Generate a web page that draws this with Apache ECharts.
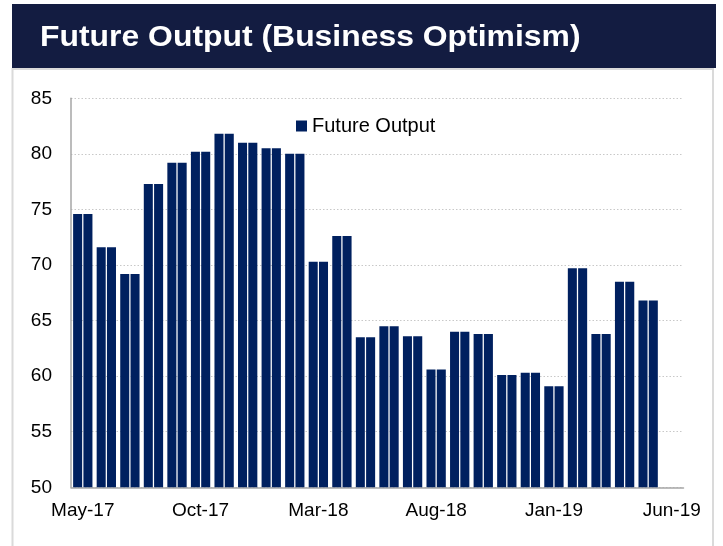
<!DOCTYPE html>
<html>
<head>
<meta charset="utf-8">
<script src="https://cdn.jsdelivr.net/npm/echarts@6/dist/echarts.min.js"></script>
<style>
html,body{margin:0;padding:0;background:#fff;}
#chart{width:723px;height:546px;}
</style>
</head>
<body>
<div id="chart"></div>
<script>
// Month categories (last month has no reading yet)
const months = ['May-17','Jun-17','Jul-17','Aug-17','Sep-17','Oct-17','Nov-17','Dec-17',
  'Jan-18','Feb-18','Mar-18','Apr-18','May-18','Jun-18','Jul-18','Aug-18','Sep-18','Oct-18',
  'Nov-18','Dec-18','Jan-19','Feb-19','Mar-19','Apr-19','May-19','Jun-19'];
// Future Output index per month
const futureOutput = [74.6, 71.6, 69.2, 77.3, 79.2, 80.2, 81.8, 81.0, 80.5, 80.0,
  70.3, 72.6, 63.5, 64.5, 63.6, 60.6, 64.0, 63.8, 60.1, 60.3, 59.1, 69.7, 63.8, 68.5, 66.8, null];
const yTicks = [50, 55, 60, 65, 70, 75, 80, 85];
const titleText = 'Future Output (Business Optimism)';
const seriesName = 'Future Output';

const FONT = '"Liberation Sans", Arial, sans-serif';
const BAR = '#00205f';

const chart = echarts.init(document.getElementById('chart'), null, {renderer: 'canvas'});
chart.setOption({
  animation: false,
  backgroundColor: '#ffffff',
  graphic: [
    {type: 'rect', z: -10, silent: true,
     shape: {x: 12, y: 4, width: 704, height: 64},
     style: {fill: '#131c41'}},
    {type: 'rect', z: -10, silent: true,
     shape: {x: 12.5, y: 69, width: 700.5, height: 490},
     style: {fill: 'none', stroke: '#dadada', lineWidth: 2}},
    {type: 'text', z: 10, silent: true, x: 40, y: 37.5, scaleX: 1.1, scaleY: 1.04,
     style: {text: titleText, fill: '#ffffff', font: 'bold 29px ' + FONT,
             verticalAlign: 'middle', align: 'left'}}
  ],
  legend: {
    data: [seriesName],
    left: 291, top: 111,
    itemWidth: 11, itemHeight: 11, itemGap: 10,
    icon: 'rect',
    textStyle: {fontSize: 20, color: '#000', fontFamily: FONT}
  },
  grid: {left: 71, right: 39.5, top: 98.3, bottom: 58.7, containLabel: false},
  xAxis: {
    type: 'category',
    data: months,
    boundaryGap: true,
    axisLine: {lineStyle: {color: '#a6a6a6', width: 1.5}},
    axisTick: {show: false},
    axisLabel: {interval: 4, fontSize: 19, color: '#000', fontFamily: FONT, margin: 14},
    splitLine: {show: false}
  },
  yAxis: {
    type: 'value',
    min: yTicks[0], max: yTicks[yTicks.length - 1], interval: 5,
    axisLine: {show: true, lineStyle: {color: '#a6a6a6', width: 1.5}},
    axisTick: {show: false},
    axisLabel: {fontSize: 19, color: '#000', fontFamily: FONT, margin: 19},
    splitLine: {show: true, lineStyle: {color: '#c8c8c8', type: [1.5, 2], width: 1}}
  },
  series: [
    {name: seriesName, type: 'bar', data: futureOutput, barGap: '14%', barCategoryGap: '18%',
     itemStyle: {color: BAR}},
    {name: seriesName, type: 'bar', data: futureOutput, barGap: '14%', barCategoryGap: '18%',
     itemStyle: {color: BAR}}
  ]
});
</script>
</body>
</html>
